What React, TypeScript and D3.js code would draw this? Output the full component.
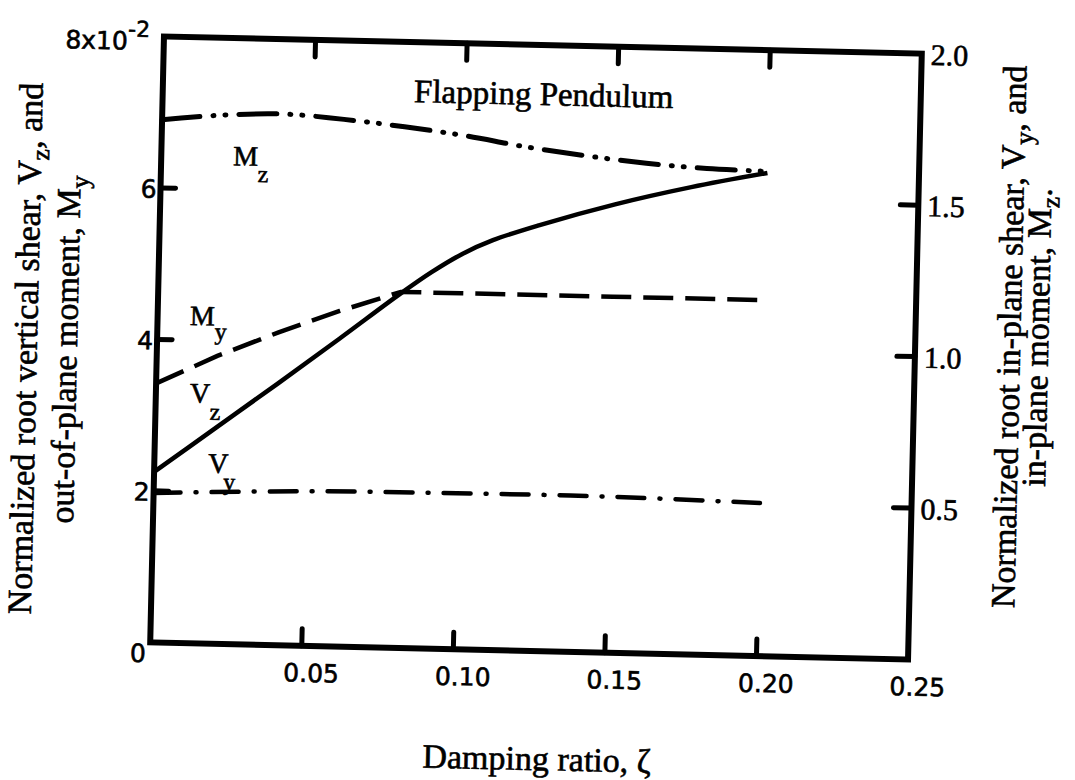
import React from "react";
import * as d3 from "d3";

// Damping ratio axis
const zetaTickValues = [0.05, 0.1, 0.15, 0.2];
const zetaLabelValues = [0.05, 0.1, 0.15, 0.2, 0.25];
const zetaLabelText = ["0.05", "0.10", "0.15", "0.20", "0.25"];

// Left axis (x10^-2)
const leftTickValues = [2, 4, 6];
const leftLabelValues = [0, 2, 4, 6];
const leftLabelText = ["0", "2", "4", "6"];

// Right axis
const rightTickValues = [0.5, 1.0, 1.5];
const rightLabelValues = [0.5, 1.0, 1.5, 2.0];
const rightLabelText = ["0.5", "1.0", "1.5", "2.0"];

// Root vertical shear Vz (left axis)
const vzZeta = [0, 0.02, 0.04, 0.06, 0.08, 0.09, 0.1, 0.11, 0.125, 0.15, 0.175, 0.2];
const vzValues = [2.25, 2.85, 3.45, 4.06, 4.68, 4.97, 5.22, 5.41, 5.62, 5.92, 6.17, 6.38];

// Out-of-plane moment My (left axis)
const myZeta = [0, 0.02, 0.04, 0.06, 0.08, 0.1, 0.15, 0.2];
const myValues = [3.42, 3.8, 4.13, 4.43, 4.7, 4.7, 4.7, 4.7];

// In-plane shear Vy (right axis)
const vyZeta = [0, 0.05, 0.1, 0.15, 0.2];
const vyValues = [0.493, 0.51, 0.515, 0.515, 0.505];

// In-plane moment Mz (right axis)
const mzZeta = [0, 0.02, 0.04, 0.06, 0.08, 0.1, 0.12, 0.14, 0.16, 0.18, 0.2];
const mzValues = [1.725, 1.745, 1.753, 1.74, 1.72, 1.695, 1.663, 1.638, 1.618, 1.605, 1.6];

const W = 1075;
const H = 780;
const plot = { left: 157, right: 915, top: 45, bottom: 651 };

const serif = "'Liberation Serif', 'Times New Roman', serif";
const sans = "'DejaVu Sans', sans-serif";

// slight ink spread so the lettering reads as heavy as the line work
const ink = { stroke: "#000", strokeWidth: 0.6 };

export default function App() {
  const x = d3.scaleLinear().domain([0, 0.25]).range([plot.left, plot.right]);
  const yL = d3.scaleLinear().domain([0, 8]).range([plot.bottom, plot.top]);
  const yR = d3.scaleLinear().domain([0, 2]).range([plot.bottom, plot.top]);

  const lineL = d3
    .line<[number, number]>()
    .x((d) => x(d[0]))
    .y((d) => yL(d[1]))
    .curve(d3.curveCatmullRom.alpha(0.5));
  const lineLStraight = d3
    .line<[number, number]>()
    .x((d) => x(d[0]))
    .y((d) => yL(d[1]));
  const lineR = d3
    .line<[number, number]>()
    .x((d) => x(d[0]))
    .y((d) => yR(d[1]))
    .curve(d3.curveCatmullRom.alpha(0.5));

  const zip = (a: number[], b: number[]) => a.map((v, i) => [v, b[i]] as [number, number]);

  const tickLen = 17;

  return (
    <svg
      width={W}
      height={H}
      viewBox={`0 0 ${W} ${H}`}
      style={{ position: "absolute", left: 0, top: 0, background: "#fff" }}
    >
      <rect x={0} y={0} width={W} height={H} fill="#fff" />
      <g transform="rotate(1.3 536 348)" fill="#000">
        {/* series */}
        <path
          d={lineL(zip(vzZeta, vzValues)) || ""}
          fill="none"
          stroke="#000"
          strokeWidth={4.5}
        />
        <path
          d={lineLStraight(zip(myZeta, myValues)) || ""}
          fill="none"
          stroke="#000"
          strokeWidth={4.5}
          strokeDasharray="30 12"
        />
        <path
          d={lineR(zip(vyZeta, vyValues)) || ""}
          fill="none"
          stroke="#000"
          strokeWidth={4.5}
          strokeLinecap="round"
          strokeDasharray="27 15 1 15"
        />
        <path
          d={lineR(zip(mzZeta, mzValues)) || ""}
          fill="none"
          stroke="#000"
          strokeWidth={5}
          strokeLinecap="round"
          strokeDasharray="38 13 1 11 1 13"
        />

        {/* frame */}
        <rect
          x={plot.left}
          y={plot.top}
          width={plot.right - plot.left}
          height={plot.bottom - plot.top}
          fill="none"
          stroke="#000"
          strokeWidth={6}
        />

        {/* ticks */}
        <g stroke="#000" strokeWidth={5} strokeLinecap="round">
          {zetaTickValues.map((v) => (
            <g key={"zt" + v}>
              <line x1={x(v)} x2={x(v)} y1={plot.bottom} y2={plot.bottom - tickLen} />
              <line x1={x(v)} x2={x(v)} y1={plot.top} y2={plot.top + tickLen} />
            </g>
          ))}
          {leftTickValues.map((v) => (
            <line key={"lt" + v} x1={plot.left} x2={plot.left + 15} y1={yL(v)} y2={yL(v)} />
          ))}
          {rightTickValues.map((v) => (
            <line key={"rt" + v} x1={plot.right} x2={plot.right - 18} y1={yR(v)} y2={yR(v)} />
          ))}
        </g>

        <g {...ink}>
          {/* bottom tick labels */}
          {zetaLabelValues.map((v, i) => (
            <text
              key={"zl" + v}
              x={x(v) + 10}
              y={687}
              textAnchor="middle"
              fontFamily={sans}
              fontSize={25}
            >
              {zetaLabelText[i]}
            </text>
          ))}

          {/* left tick labels */}
          {leftLabelValues.map((v, i) => (
            <text
              key={"ll" + v}
              x={plot.left - 4}
              y={yL(v) + (v === 0 ? 20 : 10)}
              textAnchor="end"
              fontFamily={sans}
              fontSize={25}
            >
              {leftLabelText[i]}
            </text>
          ))}
          <text x={plot.left - 36} y={yL(8) + 14} textAnchor="end" fontFamily={sans} fontSize={25}>
            8x10
          </text>
          <text x={plot.left - 36} y={yL(8) + 1} textAnchor="start" fontFamily={sans} fontSize={22}>
            -2
          </text>

          {/* right tick labels */}
          {rightLabelValues.map((v, i) => (
            <text
              key={"rl" + v}
              x={plot.right + 9}
              y={yR(v) + 11}
              textAnchor="start"
              fontFamily={serif}
              fontSize={30}
            >
              {rightLabelText[i]}
            </text>
          ))}

          {/* curve labels */}
          <text x={x(0.0237)} y={yL(6.32)} fontFamily={serif} fontSize={28}>
            M<tspan dy={16} fontSize={24}>z</tspan>
          </text>
          <text x={x(0.0107)} y={yL(4.2)} fontFamily={serif} fontSize={28}>
            M<tspan dy={14} fontSize={24}>y</tspan>
          </text>
          <text x={x(0.0112)} y={yL(3.18)} fontFamily={serif} fontSize={28}>
            V<tspan dy={17} fontSize={24}>z</tspan>
          </text>
          <text x={x(0.0178)} y={yL(2.26)} fontFamily={serif} fontSize={28}>
            V<tspan dx={-5} dy={17} fontSize={24}>y</tspan>
          </text>

          {/* chart title */}
          <text x={538} y={105} textAnchor="middle" fontFamily={serif} fontSize={33}>
            Flapping Pendulum
          </text>

          {/* x axis title */}
          <text x={546} y={770} textAnchor="middle" fontFamily={serif} fontSize={34}>
            Damping ratio, ζ
          </text>

          {/* left axis title */}
          <g transform="translate(37,360) rotate(-90)">
            <text x={0} y={0} textAnchor="middle" fontFamily={serif} fontSize={34}>
              Normalized root vertical shear, V<tspan dy={8} fontSize={26}>z</tspan>
              <tspan dy={-8}>, and</tspan>
            </text>
          </g>
          <g transform="translate(77,360) rotate(-90)">
            <text x={0} y={0} textAnchor="middle" fontFamily={serif} fontSize={34}>
              out-of-plane moment, M<tspan dy={8} fontSize={26}>y</tspan>
            </text>
          </g>

          {/* right axis title */}
          <g transform="translate(1020,326) rotate(-90)">
            <text x={0} y={0} textAnchor="middle" fontFamily={serif} fontSize={34}>
              Normalized root in-plane shear, V<tspan dy={8} fontSize={26}>y</tspan>
              <tspan dy={-8}>, and</tspan>
            </text>
          </g>
          <g transform="translate(1048,326) rotate(-90)">
            <text x={0} y={0} textAnchor="middle" fontFamily={serif} fontSize={34}>
              in-plane moment, M<tspan dy={8} fontSize={26}>z</tspan>
              <tspan dy={-8}>.</tspan>
            </text>
          </g>
        </g>
      </g>
    </svg>
  );
}
